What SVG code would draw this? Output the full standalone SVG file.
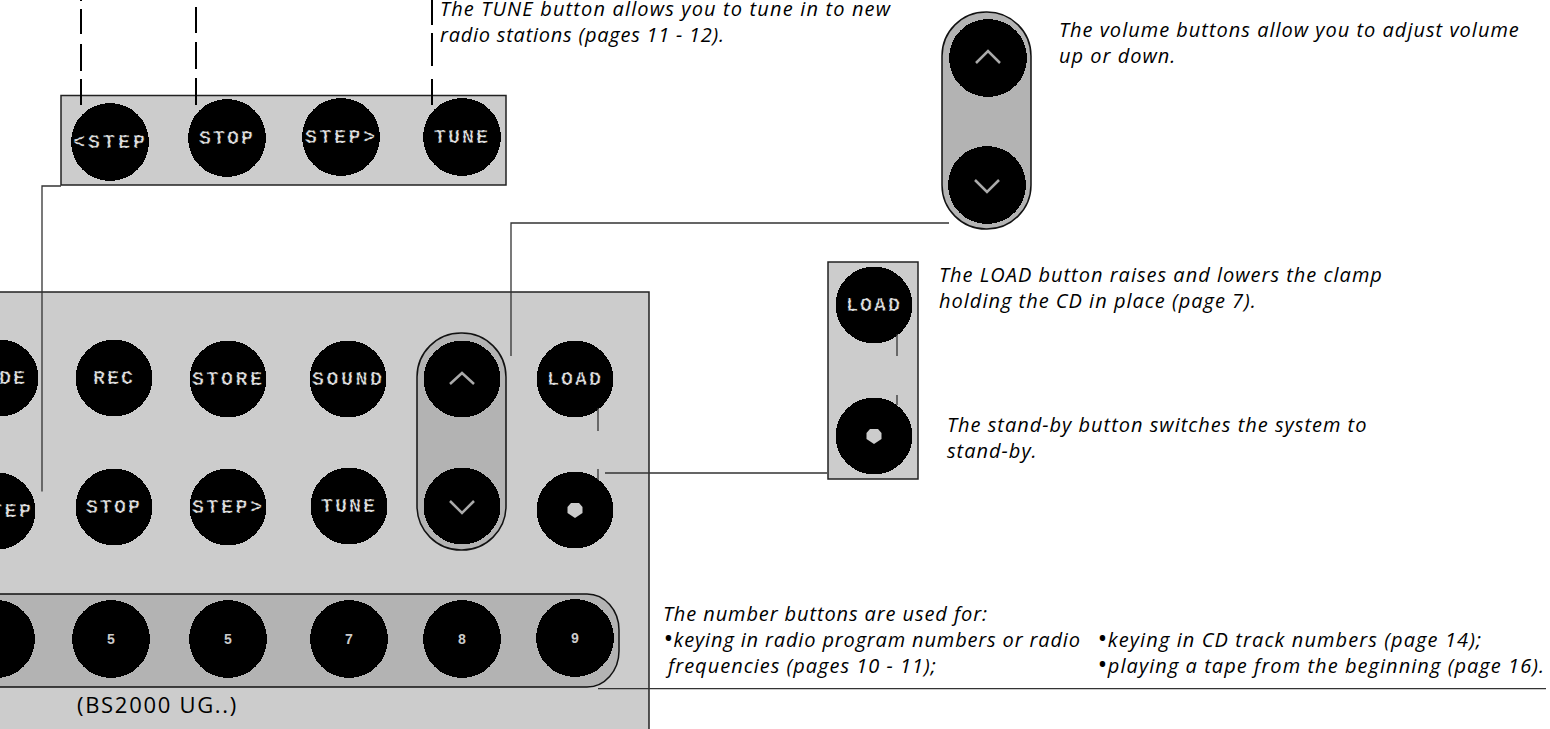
<svg xmlns="http://www.w3.org/2000/svg" width="1550" height="729" viewBox="0 0 1550 729">
<style>
.panel{fill:#ccc;stroke:#222;stroke-width:1.5}
.pill{fill:#b3b3b3;stroke:#111;stroke-width:1.5}
.b{fill:#000;shape-rendering:crispEdges}
.l{fill:#ddd;stroke:#000;stroke-width:.8;stroke-dasharray:3 2;font:bold 20px "Liberation Mono",monospace;text-anchor:middle;letter-spacing:2px}
.n{fill:#ccc;font:bold 14px "Liberation Mono",monospace;text-anchor:middle}
.g{fill:none;stroke:#aaa;stroke-width:2.500}
.s{fill:#ccc}
.t{fill:#000;font:italic 20px "Open Sans",sans-serif;letter-spacing:1px}
.bu{font-size:26px}
.u{fill:#000;font:22px "Open Sans",sans-serif;letter-spacing:1.700px}
.c{fill:none;stroke:#333;stroke-width:1.3}
.d{fill:none;stroke:#000;stroke-width:2}
</style>
<g id="main-panel">
<rect class="panel" x="-10" y="292" width="659" height="450"/>
<rect class="pill" x="417" y="333" width="89" height="217" rx="44" ry="44"/>
<rect class="pill" x="-40" y="594" width="659" height="93" rx="32" ry="36"/>
<text class="u" x="77" y="713">(BS2000 UG..)</text>
</g>
<g id="main-mode"><circle class="b" cx="0" cy="378" r="38.500"/><text class="l" x="-1" y="384">MODE</text></g>
<g id="main-rec"><circle class="b" cx="114" cy="378" r="38.500"/><text class="l" x="114" y="384">REC</text></g>
<g id="main-store"><circle class="b" cx="228" cy="379" r="38.500"/><text class="l" x="228" y="385" textLength="72">STORE</text></g>
<g id="main-sound"><circle class="b" cx="348" cy="379" r="38.500"/><text class="l" x="348" y="385" textLength="72">SOUND</text></g>
<g id="main-up"><circle class="b" cx="462" cy="379" r="38.500"/><polyline class="g" points="450,384 462,373 474,384"/></g>
<g id="main-load"><circle class="b" cx="575" cy="379" r="38.500"/><text class="l" x="575" y="385">LOAD</text></g>
<g id="main-step-back"><circle class="b" cx="-3" cy="511" r="38.500"/><text class="l" x="-3" y="517" textLength="72">&lt;STEP</text></g>
<g id="main-stop"><circle class="b" cx="114" cy="507" r="38.500"/><text class="l" x="114" y="513">STOP</text></g>
<g id="main-step-fwd"><circle class="b" cx="228" cy="507" r="38.500"/><text class="l" x="228" y="513" textLength="72">STEP&gt;</text></g>
<g id="main-tune"><circle class="b" cx="349" cy="506" r="38.500"/><text class="l" x="349" y="512">TUNE</text></g>
<g id="main-down"><circle class="b" cx="462" cy="506" r="38.500"/><polyline class="g" points="450,501 462,513 474,501"/></g>
<g id="main-standby"><circle class="b" cx="575" cy="510" r="38.500"/><polygon class="s" points="571,503 579,503 582.500,507 582.500,513 575,518 567.500,513 567.500,507"/></g>
<g id="num-4"><circle class="b" cx="-4" cy="639" r="39"/></g>
<g id="num-5"><circle class="b" cx="111" cy="639" r="39"/><text class="n" x="111" y="644">5</text></g>
<g id="num-6"><circle class="b" cx="228" cy="639" r="39"/><text class="n" x="228" y="644">5</text></g>
<g id="num-7"><circle class="b" cx="349" cy="639" r="39"/><text class="n" x="349" y="644">7</text></g>
<g id="num-8"><circle class="b" cx="462" cy="639" r="39"/><text class="n" x="462" y="644">8</text></g>
<g id="num-9"><circle class="b" cx="575" cy="638" r="39"/><text class="n" x="575" y="643">9</text></g>

<g id="strip-panel"><rect class="panel" x="61" y="95.500" width="445" height="89.500"/></g>
<g id="strip-step-back"><circle class="b" cx="110" cy="142" r="39"/><text class="l" x="110" y="148" textLength="74">&lt;STEP</text></g>
<g id="strip-stop"><circle class="b" cx="227" cy="138" r="39"/><text class="l" x="227" y="144">STOP</text></g>
<g id="strip-step-fwd"><circle class="b" cx="341" cy="137" r="39"/><text class="l" x="341" y="143" textLength="72">STEP&gt;</text></g>
<g id="strip-tune"><circle class="b" cx="462" cy="137" r="39"/><text class="l" x="462" y="143">TUNE</text></g>

<g id="volume"><rect class="pill" x="942" y="12" width="89" height="217" rx="44" ry="44"/><circle class="b" cx="988" cy="58" r="39"/><polyline class="g" points="976,63 988,51 1000,63"/><circle class="b" cx="987" cy="185" r="39"/><polyline class="g" points="975,180 987,192 999,180"/></g>
<g id="load-standby"><rect class="panel" x="828" y="262" width="90" height="217"/><circle class="b" cx="874" cy="305" r="38.500"/><text class="l" x="874" y="311">LOAD</text><circle class="b" cx="874" cy="436" r="38.500"/><polygon class="s" points="870,429 878,429 881.500,433 881.500,439 874,444 866.500,439 866.500,433"/></g>

<g id="connectors">
<path class="d" d="M81 0V1M81 9V34M81 44V71M81 79V105M196 7V33M196 42V69M196 78V105M432 0V25M432 33V66M432 79V105"/>
<path class="c" d="M61 186H42V491.500"/>
<path class="c" d="M949 223H511V356"/>
<path class="c" d="M598 408V431M598 469V480M605 473H827"/>
<path class="c" d="M897 334V356M897 395V405"/>
<path class="c" d="M598 688.700H1546"/>
</g>
<g id="labels">
<text class="t" x="440" y="16" textLength="451">The TUNE button allows you to tune in to new</text>
<text class="t" x="440" y="42" textLength="285">radio stations (pages 11 - 12).</text>
<text class="t" x="1059" y="37">The volume buttons allow you to adjust volume</text>
<text class="t" x="1059" y="63">up or down.</text>
<text class="t" x="939" y="282">The LOAD button raises and lowers the clamp</text>
<text class="t" x="939" y="308">holding the CD in place (page 7).</text>
<text class="t" x="947" y="432">The stand-by button switches the system to</text>
<text class="t" x="947" y="458">stand-by.</text>
<text class="t" x="663" y="620.500" textLength="325">The number buttons are used for:</text>
<text class="t" x="663" y="647" textLength="418"><tspan class="bu">•</tspan>keying in radio program numbers or radio</text>
<text class="t" x="668" y="673">frequencies (pages 10 - 11);</text>
<text class="t" x="1097" y="647" textLength="385"><tspan class="bu">•</tspan>keying in CD track numbers (page 14);</text>
<text class="t" x="1097" y="673" textLength="448"><tspan class="bu">•</tspan>playing a tape from the beginning (page 16).</text>
</g>
</svg>
